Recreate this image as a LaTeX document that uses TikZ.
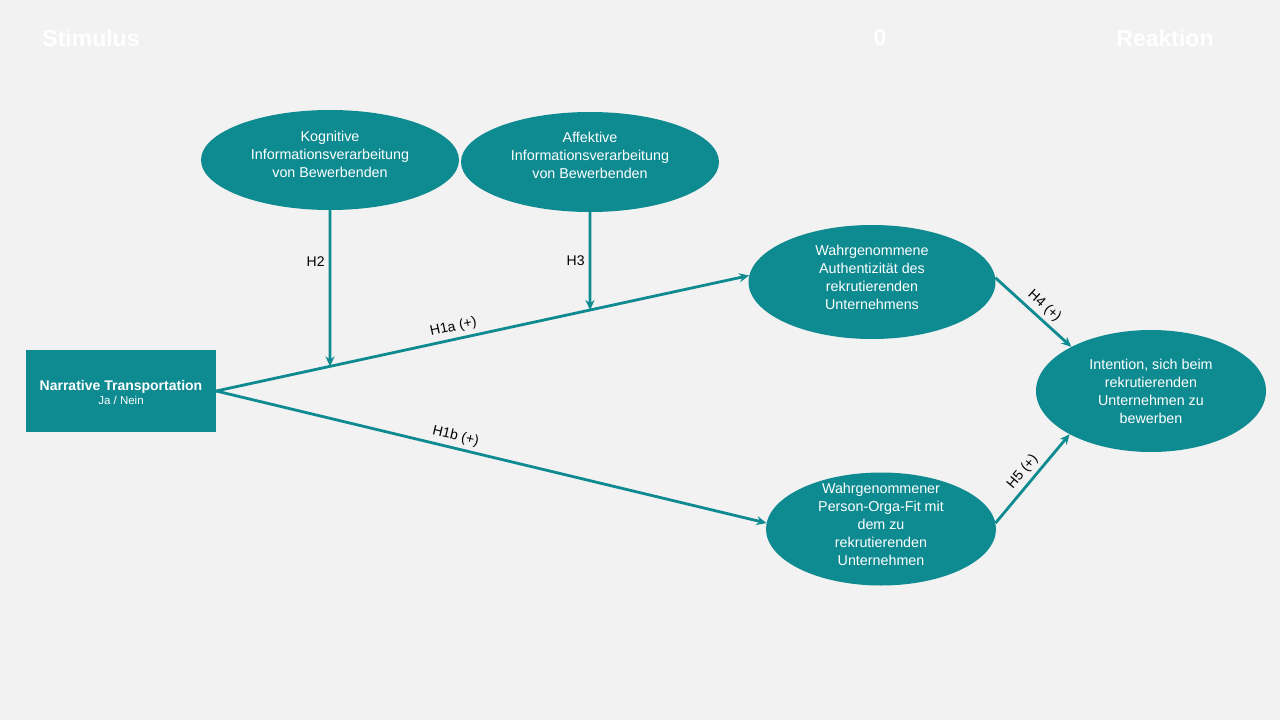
\documentclass[tikz,border=0pt]{standalone}
\usepackage{fontspec}
\setmainfont{Liberation Sans}
\usetikzlibrary{shapes.geometric,arrows.meta,calc}
\definecolor{tealc}{RGB}{14,138,145}
\definecolor{bgc}{RGB}{242,242,242}
\begin{document}
\begin{tikzpicture}[x=1pt,y=-1pt,
  ell/.style={ellipse,fill=tealc,draw=none,inner sep=0pt},
  elltext/.style={text=white,align=center,inner sep=0pt,font=\fontsize{14.3}{18}\selectfont},
  conn/.style={draw=tealc,line width=2.8pt,-{Stealth[length=10pt,width=9pt]}},
  lab/.style={font=\fontsize{14}{16}\selectfont,text=black,inner sep=4pt},
  hdr/.style={font=\bfseries\fontsize{23}{26}\selectfont,text=white}]
\fill[bgc] (0,0) rectangle (1280,720);
\useasboundingbox (0,0) rectangle (1280,720);
% header
\node[hdr] (hs) at (91,38) {Stimulus};
\node[hdr] (ho) at (880,38) {0};
\node[hdr] (hr) at (1165,38) {Reaktion};
% stimulus box
\node[rectangle,fill=tealc,minimum width=190pt,minimum height=82pt,inner sep=0pt] (box) at (121,391) {};
\node[text=white,align=center,inner sep=0pt] (boxt) at (121,392)
  {{\bfseries\fontsize{14}{17}\selectfont Narrative Transportation}\\[2pt]{\fontsize{11.5}{13}\selectfont Ja / Nein}};
% ellipses
\node[ell,minimum width=258pt,minimum height=100pt] (kog) at (330,160) {};
\node[elltext] (kogt) at (330,154) {Kognitive\\Informationsverarbeitung\\von Bewerbenden};
\node[ell,minimum width=258pt,minimum height=100pt] (aff) at (590,162) {};
\node[elltext] (afft) at (590,155) {Affektive\\Informationsverarbeitung\\von Bewerbenden};
\node[ell,minimum width=247pt,minimum height=114pt] (auth) at (872,282) {};
\node[elltext] (autht) at (872,277) {Wahrgenommene\\Authentizität des\\rekrutierenden\\Unternehmens};
\node[ell,minimum width=230pt,minimum height=113pt] (po) at (881,529) {};
\node[elltext] (pot) at (881,524) {Wahrgenommener\\Person-Orga-Fit mit\\dem zu\\rekrutierenden\\Unternehmen};
\node[ell,minimum width=230pt,minimum height=122pt] (int) at (1151,391) {};
\node[elltext] (intt) at (1151,391) {Intention, sich beim\\rekrutierenden\\Unternehmen zu\\bewerben};
% connectors
\draw[conn] (box.east) -- node[lab,pos=0.45,sloped,above] {H1a (+)} (auth.177);
\draw[conn] (box.east) -- node[lab,pos=0.43,sloped,above] {H1b (+)} (po.177);
\coordinate (k2) at ($(kog.south)+(0,300)$);
\coordinate (a2) at ($(aff.south)+(0,300)$);
\coordinate (m2) at (intersection of kog.south--k2 and box.east--auth.177);
\coordinate (m3) at (intersection of aff.south--a2 and box.east--auth.177);
\draw[conn] (kog.south) -- node[lab,pos=0.33,left] {H2} (m2);
\draw[conn] (aff.south) -- node[lab,pos=0.5,left] {H3} (m3);
\draw[conn] (auth.2) -- node[lab,pos=0.54,sloped,above] {H4 (+)} (int.151);
\draw[conn] (po.3) -- node[lab,pos=0.49,sloped,above] {H5 (+)} (int.208);
\end{tikzpicture}
\end{document}
